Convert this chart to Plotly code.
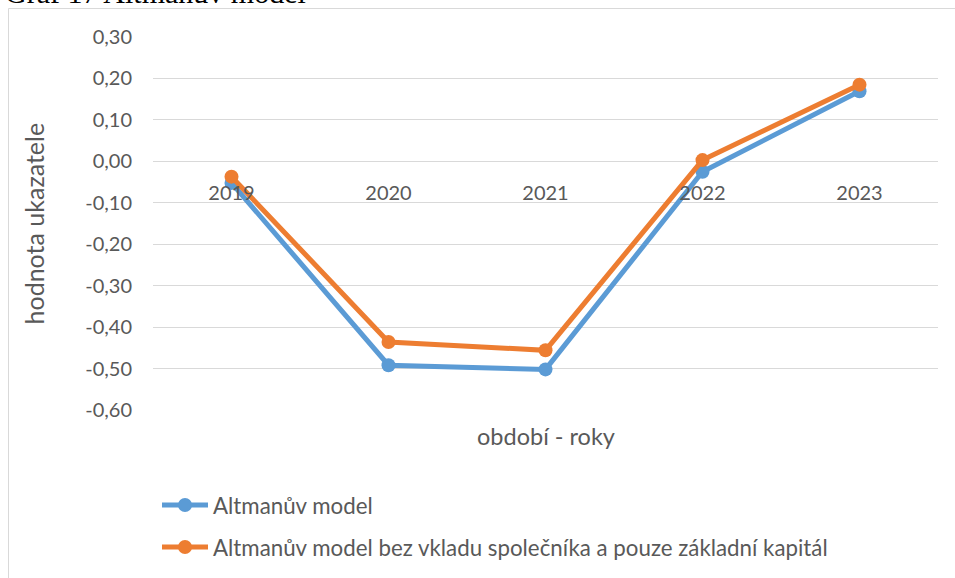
import plotly.graph_objects as go

years = ["2019", "2020", "2021", "2022", "2023"]
altman = [-0.052, -0.492, -0.502, -0.025, 0.169]
altman_bez = [-0.037, -0.436, -0.456, 0.003, 0.185]
series_names = ["Altmanův model", "Altmanův model bez vkladu společníka a pouze základní kapitál"]
colors = ["#5B9BD5", "#ED7D31"]
y_tickvals = [0.3, 0.2, 0.1, 0.0, -0.1, -0.2, -0.3, -0.4, -0.5, -0.6]
y_ticktext = ["0,30", "0,20", "0,10", "0,00", "-0,10", "-0,20", "-0,30", "-0,40", "-0,50", "-0,60"]

W, H = 955, 578
L, R, T, B = 153, 17, 37, 168
pw, ph = W - L - R, H - T - B

def px_x(x):
    return (x - L) / pw

def px_y(y):
    return (H - B - y) / ph

fig = go.Figure()
for i, (name, vals) in enumerate(zip(series_names, [altman, altman_bez])):
    fig.add_trace(go.Scatter(
        x=years, y=vals, name=name, mode="lines+markers",
        line=dict(color=colors[i], width=5),
        marker=dict(color=colors[i], size=14),
        legendgroup=f"g{i}",
    ))

font_family = "Lato, Open Sans, sans-serif"
grey = "#595959"
fig.update_layout(
    width=W, height=H,
    margin=dict(l=L, r=R, t=T, b=B, autoexpand=False),
    paper_bgcolor="white", plot_bgcolor="white",
    font=dict(family=font_family, color=grey, size=20),
    showlegend=True,
    legend=dict(
        x=px_x(157), y=px_y(484), xanchor="left", yanchor="top",
        orientation="v", traceorder="grouped", tracegroupgap=10,
        font=dict(size=22.3, color=grey, family=font_family),
        itemwidth=46,
    ),
    xaxis=dict(
        type="category", range=[-0.5, 4.5],
        anchor="free", position=px_y(161.5),
        showgrid=False, showline=False, zeroline=False,
        ticks="", ticklabelstandoff=17,
        tickfont=dict(size=20, color=grey),
    ),
    yaxis=dict(
        range=[-0.6, 0.3], tickvals=y_tickvals, ticktext=y_ticktext,
        showgrid=True, gridcolor="#d9d9d9", gridwidth=1,
        zeroline=False, showline=False, ticks="",
        ticklabelstandoff=20,
        tickfont=dict(size=20, color=grey),
    ),
    shapes=[dict(
        type="rect", xref="paper", yref="paper",
        x0=px_x(8.5), x1=px_x(970), y0=px_y(8.5), y1=px_y(600),
        line=dict(color="#d9d9d9", width=1), layer="below",
    )],
    annotations=[
        dict(text="hodnota ukazatele", xref="paper", yref="paper",
             x=px_x(33), y=0.5, xanchor="center", yanchor="middle",
             textangle=-90, showarrow=False,
             font=dict(size=25, color=grey)),
        dict(text="období - roky", xref="paper", yref="paper",
             x=0.5, y=px_y(436), xanchor="center", yanchor="middle",
             showarrow=False, font=dict(size=23.5, color=grey)),
        dict(text="Graf 17 Altmanův model", xref="paper", yref="paper",
             x=px_x(3), y=px_y(11), xanchor="left", yanchor="bottom",
             showarrow=False,
             font=dict(family="Liberation Serif, Times New Roman, serif", size=30, color="black")),
    ],
)

fig.write_html("out.html", config={"displayModeBar": False},
               post_script="document.body.style.margin='0';")
